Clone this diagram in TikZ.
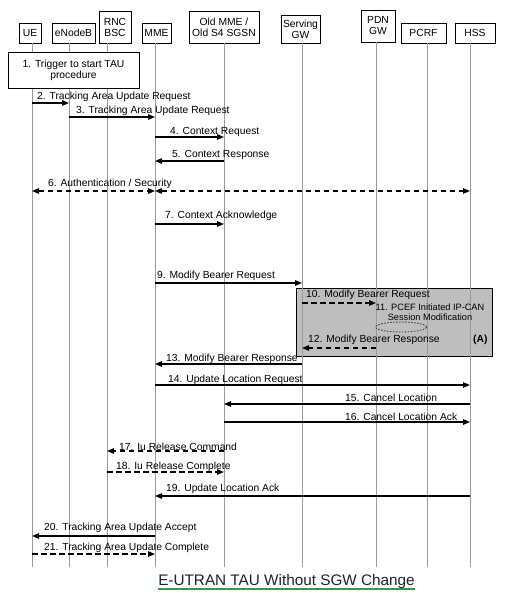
\documentclass[tikz,border=0pt]{standalone}
\usepackage{fontspec}
\setmainfont{Liberation Sans}
\usetikzlibrary{arrows.meta,shapes.geometric}
\definecolor{lifegray}{HTML}{9A9A9A}
\definecolor{boxgray}{HTML}{BEBEBE}
\definecolor{titlegreen}{HTML}{2E9E4A}
\definecolor{titletext}{HTML}{222222}
\begin{document}
\begin{tikzpicture}[x=1pt,y=-1pt,
  hbox/.style={draw=black,line width=0.8pt,fill=white,inner sep=0pt,align=center,
    font=\fontsize{10.3}{11}\selectfont},
  life/.style={draw=lifegray,line width=1pt},
  msg/.style={line width=1.2pt,-{Triangle[length=7pt,width=5.5pt]}},
  bmsg/.style={line width=1.2pt,{Triangle[length=7pt,width=5.5pt]}-{Triangle[length=7pt,width=5.5pt]}},
  dsh/.style={dash pattern=on 5.5pt off 3.5pt},
  lbl/.style={anchor=base west,inner sep=0pt,font=\fontsize{10.3}{11}\selectfont}]
\useasboundingbox (0,0) rectangle (530,593);

% header boxes
\node[hbox,minimum width=22pt,minimum height=20pt] (ue) at (30,33) {UE};
\node[hbox,minimum width=43pt,minimum height=20pt] (enb) at (73.5,33) {eNodeB};
\node[hbox,minimum width=32pt,minimum height=32pt] (rnc) at (115,27) {RNC\\BSC};
\node[hbox,minimum width=29pt,minimum height=20pt] (mme) at (156.5,33) {MME};
\node[hbox,minimum width=70pt,minimum height=32pt] (old) at (224,27) {Old MME /\\Old S4 SGSN};
\node[hbox,minimum width=39pt,minimum height=28pt] (sgw) at (300.5,29) {Serving\\GW};
\node[hbox,minimum width=34pt,minimum height=32pt] (pdn) at (378,26) {PDN\\GW};
\node[hbox,minimum width=45pt,minimum height=20pt] (pcrf) at (423.5,33) {PCRF};
\node[hbox,minimum width=40pt,minimum height=20pt] (hss) at (475,33) {HSS};

% lifeline bottoms
\coordinate (ueB) at (32,567);
\coordinate (enbB) at (69,567);
\coordinate (rncB) at (107,567);
\coordinate (mmeB) at (155,567);
\coordinate (oldB) at (224,567);
\coordinate (sgwB) at (302,567);
\coordinate (pdnB) at (376,567);
\coordinate (pcrfB) at (427,567);
\coordinate (hssB) at (470,567);

% grey procedure box (A)
\node[draw=black,line width=0.8pt,fill=boxgray,minimum width=196pt,minimum height=68pt,inner sep=0pt]
  (boxA) at (394,322) {};

% lifelines
\foreach \n in {ue,enb,rnc,mme,old,sgw,pdn,pcrf,hss}
  \draw[life] (\n.south -| \n B) -- (\n B);

% trigger box
\node[hbox,minimum width=131pt,minimum height=36pt,font=\fontsize{10.3}{11}\selectfont]
  (trig) at (73.5,70) {1. Trigger to start TAU\\procedure};

% messages
\draw[msg] (ueB |- 0,103) -- (enbB |- 0,103);
\node[lbl] (l2) at (37,99.7) {2. Tracking Area Update Request};
\draw[msg] (enbB |- 0,117) -- (mmeB |- 0,117);
\node[lbl] (l3) at (76,113.7) {3. Tracking Area Update Request};
\draw[msg] (mmeB |- 0,137) -- (oldB |- 0,137);
\node[lbl] (l4) at (170,134.7) {4. Context Request};
\draw[msg] (oldB |- 0,161) -- (mmeB |- 0,161);
\node[lbl] (l5) at (172,157.7) {5. Context Response};
\draw[bmsg,dsh] (ueB |- 0,191) -- (mmeB |- 0,191);
\draw[bmsg,dsh] (mmeB |- 0,191) -- (hssB |- 0,191);
\node[lbl] (l6) at (48,186.7) {6. Authentication / Security};
\draw[msg] (mmeB |- 0,224) -- (oldB |- 0,224);
\node[lbl] (l7) at (165,218.7) {7. Context Acknowledge};
\draw[msg] (mmeB |- 0,283) -- (sgwB |- 0,283);
\node[lbl] (l9) at (157,278.7) {9. Modify Bearer Request};
\draw[msg,dsh] (sgwB |- 0,303) -- (pdnB |- 0,303);
\node[lbl] (l10) at (306,297.7) {10. Modify Bearer Request};
\node[inner sep=0pt,align=center,font=\fontsize{9.2}{9.6}\selectfont] (l11) at (430,312.5)
  {11. PCEF Initiated IP-CAN\\Session Modification};
\draw[line width=0.9pt,dash pattern=on 1.5pt off 1.5pt,draw=black!75] (401,327) ellipse [x radius=25.5pt,y radius=5pt];
\draw[msg,dsh] (pdnB |- 0,348) -- (sgwB |- 0,348);
\node[lbl] (l12) at (308,342.7) {12. Modify Bearer Response};
\node[lbl,font=\fontsize{10.3}{11}\selectfont\bfseries] (lA) at (473,342.7) {(A)};
\draw[msg] (sgwB |- 0,364) -- (mmeB |- 0,364);
\node[lbl] (l13) at (166,361.7) {13. Modify Bearer Response};
\draw[msg] (mmeB |- 0,385) -- (hssB |- 0,385);
\node[lbl] (l14) at (168,382.7) {14. Update Location Request};
\draw[msg] (hssB |- 0,404) -- (oldB |- 0,404);
\node[lbl] (l15) at (345,401.7) {15. Cancel Location};
\draw[msg] (oldB |- 0,422) -- (hssB |- 0,422);
\node[lbl] (l16) at (345,420.7) {16. Cancel Location Ack};
\draw[msg,dsh] (oldB |- 0,451) -- (rncB |- 0,451);
\node[lbl] (l17) at (119,450.7) {17. Iu Release Command};
\draw[msg,dsh] (rncB |- 0,472) -- (oldB |- 0,472);
\node[lbl] (l18) at (116,469.7) {18. Iu Release Complete};
\draw[msg] (hssB |- 0,496) -- (mmeB |- 0,496);
\node[lbl] (l19) at (166,491.7) {19. Update Location Ack};
\draw[msg] (mmeB |- 0,536) -- (ueB |- 0,536);
\node[lbl] (l20) at (44,530.7) {20. Tracking Area Update Accept};
\draw[msg,dsh] (ueB |- 0,554) -- (mmeB |- 0,554);
\node[lbl] (l21) at (44,550.7) {21. Tracking Area Update Complete};

% title
\node[anchor=base,inner sep=0pt,text=titletext,font=\fontsize{15.3}{17}\selectfont] (title) at (286.5,585)
  {E-UTRAN TAU Without SGW Change};
\draw[titlegreen,line width=2.5pt] (title.south west |- 0,589) -- (title.south east |- 0,589);
\end{tikzpicture}
\end{document}
